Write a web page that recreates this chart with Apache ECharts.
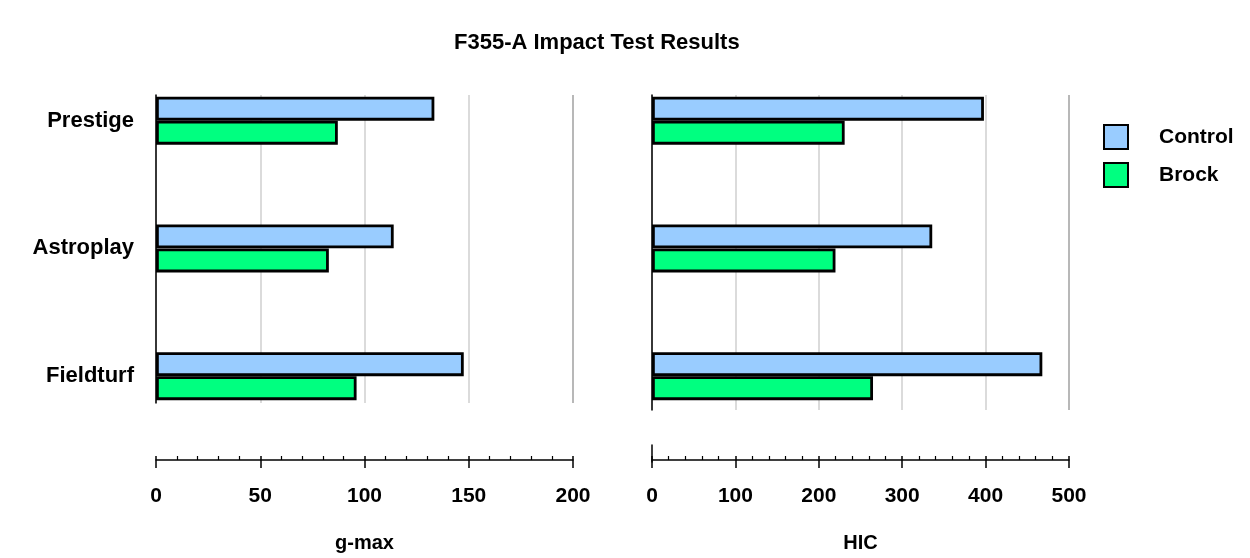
<!DOCTYPE html>
<html>
<head>
<meta charset="utf-8">
<script src="https://cdn.jsdelivr.net/npm/echarts@6/dist/echarts.min.js"></script>
<style>
html,body{margin:0;padding:0;background:#fff;}
#chart{width:1250px;height:558px;}
</style>
</head>
<body>
<div id="chart"></div>
<script>
const categories = ['Prestige', 'Astroplay', 'Fieldturf'];
const gmaxControl = [133.5, 114, 147.6];
const gmaxBrock = [87.2, 82.9, 96.2];
const hicControl = [398, 336, 468];
const hicBrock = [231, 220, 265];
const gmaxScale = { min: 0, max: 200, interval: 50 };
const hicScale = { min: 0, max: 500, interval: 100 };
const titleText = 'F355-A Impact Test Results';
const seriesNames = ['Control', 'Brock'];
const axisNames = ['g-max', 'HIC'];

const FONT = 'Liberation Sans, Arial, sans-serif';
const CONTROL_COLOR = '#99CCFF';
const BROCK_COLOR = '#00FF80';

function bottomAxes(gridIndex, scale, name) {
  return [
    {
      gridIndex, type: 'value', min: scale.min, max: scale.max, interval: scale.interval,
      position: 'bottom', offset: 20,
      axisLine: { show: true, lineStyle: { color: '#000', width: 1.5 } },
      axisTick: { show: true, inside: true, length: 4, lineStyle: { color: '#000', width: 1.5 } },
      minorTick: { show: true, splitNumber: 5, length: 4, lineStyle: { color: '#000', width: 1.2 } },
      axisLabel: { show: true, margin: 26, color: '#000', fontFamily: FONT, fontWeight: 'bold', fontSize: 21 },
      splitLine: { show: false },
      name: name, nameLocation: 'middle', nameGap: 73,
      nameTextStyle: { color: '#000', fontFamily: FONT, fontWeight: 'bold', fontSize: 20 }
    },
    {
      gridIndex, type: 'value', min: scale.min, max: scale.max, interval: scale.interval,
      position: 'bottom', offset: 20,
      axisLine: { show: false },
      axisTick: { show: true, inside: false, length: 8, lineStyle: { color: '#000', width: 1.5 } },
      minorTick: { show: false },
      axisLabel: { show: false },
      splitLine: { show: false }
    }
  ];
}
function gridAxis(gridIndex, scale, colors) {
  return {
    gridIndex, type: 'value', min: scale.min, max: scale.max, interval: scale.interval,
    axisLine: { show: false }, axisTick: { show: false }, axisLabel: { show: false },
    splitLine: { show: true, lineStyle: { color: colors, width: 1.5 } }
  };
}
function leftLineAxis(gridIndex) {
  return {
    gridIndex, type: 'value', min: 0, max: 1,
    axisLine: { show: true, lineStyle: { color: '#000', width: 1.5 } },
    axisTick: { show: false }, axisLabel: { show: false }, splitLine: { show: false }
  };
}
function catAxis(gridIndex, showLabels) {
  return {
    gridIndex, type: 'category', data: categories, inverse: true,
    axisLine: { show: false }, axisTick: { show: false },
    axisLabel: { show: showLabels, margin: 22, color: '#000', fontFamily: FONT, fontWeight: 'bold', fontSize: 22 },
    splitLine: { show: false }
  };
}
function bar(name, data, xi, yi, color) {
  return {
    type: 'bar', name, data, xAxisIndex: xi, yAxisIndex: yi,
    barWidth: 24, barGap: '0%',
    itemStyle: { color, borderColor: '#000', borderWidth: 2.8 }
  };
}

const LG = '#cfcfcf', DG = '#a0a0a0';

const option = {
  backgroundColor: '#fff',
  animation: false,
  title: {
    text: titleText, left: 449, top: 27,
    textStyle: { color: '#000', fontFamily: FONT, fontWeight: 'bold', fontSize: 22 }
  },
  legend: {
    data: seriesNames, orient: 'vertical', left: 1098, top: 119,
    icon: 'rect', itemWidth: 24, itemHeight: 24, itemGap: 12,
    textStyle: { color: '#000', fontFamily: FONT, fontWeight: 'bold', fontSize: 21, padding: [0, 0, 0, 26] }
  },
  grid: [
    { left: 156, width: 417, top: 56.75, height: 385.5 },
    { left: 156, width: 417, top: 95, height: 308 },
    { left: 652, width: 417, top: 56.75, height: 385.5 },
    { left: 652, width: 417, top: 95, height: 315 },
    { left: 652, width: 417, top: 445, height: 17 }
  ],
  xAxis: [
    ...bottomAxes(0, gmaxScale, axisNames[0]),
    gridAxis(1, gmaxScale, [LG, LG, LG, LG, DG]),
    ...bottomAxes(2, hicScale, axisNames[1]),
    gridAxis(3, hicScale, [LG, LG, LG, LG, LG, DG]),
    { gridIndex: 4, type: 'value', min: 0, max: 500, show: false }
  ],
  yAxis: [
    catAxis(0, true),
    leftLineAxis(1),
    catAxis(2, false),
    leftLineAxis(3),
    leftLineAxis(4)
  ],
  series: [
    bar(seriesNames[0], gmaxControl, 0, 0, CONTROL_COLOR),
    bar(seriesNames[1], gmaxBrock, 0, 0, BROCK_COLOR),
    bar(seriesNames[0], hicControl, 3, 2, CONTROL_COLOR),
    bar(seriesNames[1], hicBrock, 3, 2, BROCK_COLOR)
  ]
};

const chart = echarts.init(document.getElementById('chart'), null, { renderer: 'canvas' });
chart.setOption(option);
</script>
</body>
</html>
